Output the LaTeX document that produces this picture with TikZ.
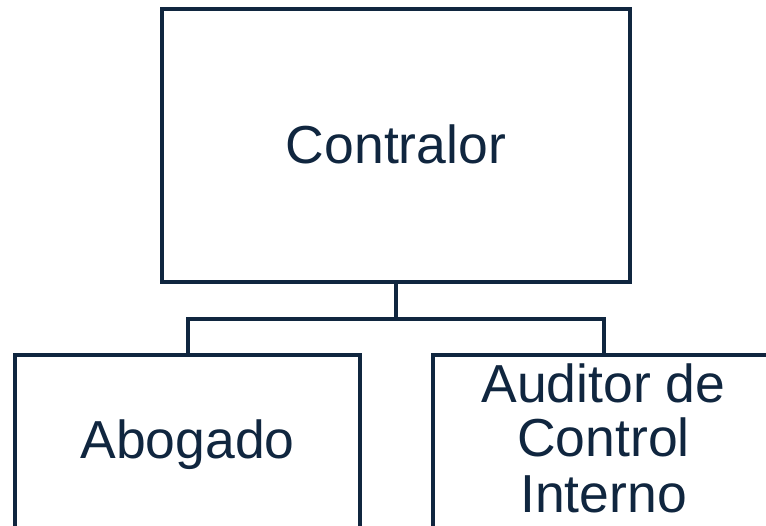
\documentclass[tikz,border=0pt]{standalone}
\usepackage{fontspec}
\setmainfont{Liberation Sans}
\definecolor{navy}{HTML}{10263F}
\begin{document}
\begin{tikzpicture}[x=1pt,y=-1pt,
  box/.style={draw=navy,line width=4pt,rectangle,inner sep=0pt,outer sep=0pt,fill=white},
  lbl/.style={text=navy,font=\fontsize{53.5}{55}\selectfont,anchor=base,inner sep=0pt},
  conn/.style={draw=navy,line width=4pt}]
\useasboundingbox (0,0) rectangle (766,526);
\clip (0,0) rectangle (766,526);
\fill[white] (0,0) rectangle (766,526);
\node[box,minimum width=468pt,minimum height=273pt] (top) at (396,145.5) {};
\node[box,minimum width=344.7pt,minimum height=190pt] (abog) at (187.7,450) {};
\node[box,minimum width=342.6pt,minimum height=190pt] (aud) at (604,450) {};
\coordinate (j) at (396,319);
\draw[conn] (top.south) -- (j);
\draw[conn] (abog.north) |- (j) -| (aud.north);
\node[lbl] (tcontr) at (396,163.3) {Contralor};
\node[lbl] (tabog) at (187.5,458.3) {Abogado};
\node[lbl] (taud1) at (603.5,402.7) {Auditor de};
\node[lbl] (taud2) at (603.5,456.7) {Control};
\node[lbl] (taud3) at (603.5,512.7) {Interno};
\end{tikzpicture}
\end{document}
